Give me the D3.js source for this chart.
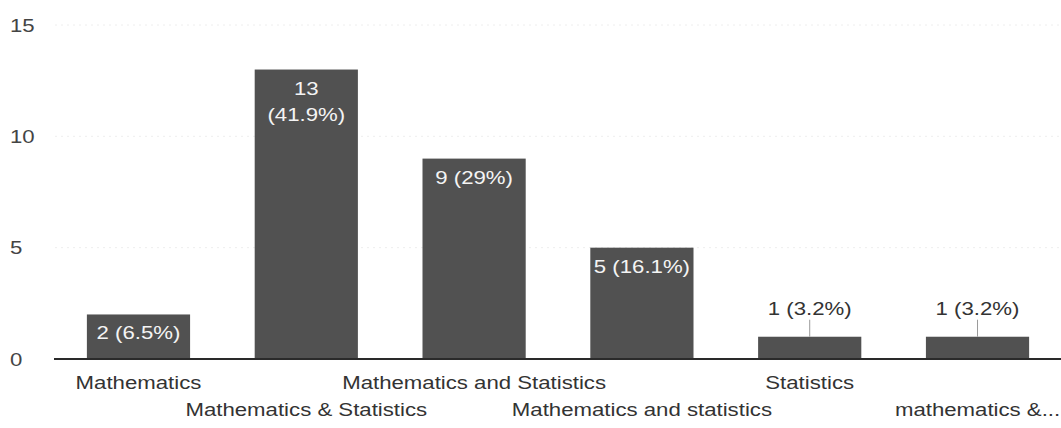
<!DOCTYPE html>
<html>
<head>
    <title>Bar chart</title>
    <script src="https://d3js.org/d3.v7.min.js"></script>
    <style>
        body { margin: 0; background: #fff; }
        text { font-family: "Liberation Sans", Arial, sans-serif; }
    </style>
</head>
<body>
    <svg class="barChart" width="1061" height="428"></svg>

    <script>
// dados
const categorias = ['Mathematics', 'Mathematics & Statistics', 'Mathematics and Statistics',
    'Mathematics and statistics', 'Statistics', 'mathematics &...'];
const respostas = [2, 13, 9, 5, 1, 1];
const yTicks = [0, 5, 10, 15];

function plotarGrafico() {
    const svg = d3.select('.barChart');
    const total = d3.sum(respostas);
    const fs = 18.5, sx = 1.2;   // fonte um pouco esticada na horizontal (scan)

    const x = d3.scaleBand()
        .domain(categorias)
        .range([55, 1061])
        .paddingInner(0.385)
        .paddingOuter(0.19);

    const y = d3.scaleLinear()
        .domain([0, 15])
        .range([359, 25]);

    // grade
    svg.append('g').selectAll('line')
        .data(yTicks.filter(d => d > 0))
        .enter().append('line')
        .attr('x1', 55).attr('x2', 1061)
        .attr('y1', d => y(d)).attr('y2', d => y(d))
        .attr('stroke', '#eeeeee')
        .attr('stroke-dasharray', '2,4');

    // rótulos do eixo y
    svg.append('g').selectAll('text')
        .data(yTicks)
        .enter().append('text')
        .attr('transform', d => `translate(10,${y(d) + 6.5}) scale(${sx},1)`)
        .attr('font-size', fs)
        .attr('fill', '#444')
        .text(d => d);

    // barras
    svg.append('g').selectAll('rect')
        .data(respostas)
        .enter().append('rect')
        .attr('x', (d, i) => x(categorias[i]))
        .attr('y', d => y(d))
        .attr('width', x.bandwidth())
        .attr('height', d => y(0) - y(d))
        .attr('fill', '#515151');

    // linha de base
    svg.append('line')
        .attr('x1', 54).attr('x2', 1061)
        .attr('y1', y(0)).attr('y2', y(0))
        .attr('stroke', '#2a2a2a')
        .attr('stroke-width', 2);

    // rótulos das categorias (alternados em duas linhas)
    svg.append('g').selectAll('text')
        .data(categorias)
        .enter().append('text')
        .attr('transform', (d, i) => `translate(${x(d) + x.bandwidth() / 2},${i % 2 ? 416 : 389}) scale(${sx},1)`)
        .attr('text-anchor', 'middle')
        .attr('font-size', fs)
        .attr('fill', '#333')
        .text(d => d);

    // rótulos dos valores
    const rot = svg.append('g');
    respostas.forEach((v, i) => {
        const cx = x(categorias[i]) + x.bandwidth() / 2;
        const pct = Math.round(v / total * 1000) / 10 + '%';
        const label = `${v} (${pct})`;
        const alturaBarra = y(0) - y(v);
        if (alturaBarra < 30) {
            // fora da barra, com linha guia
            rot.append('text')
                .attr('transform', `translate(${cx},${y(v) - 22}) scale(${sx},1)`)
                .attr('text-anchor', 'middle')
                .attr('font-size', fs)
                .attr('fill', '#333')
                .text(label);
            rot.append('line')
                .attr('x1', cx).attr('x2', cx)
                .attr('y1', y(v) - 17).attr('y2', y(v))
                .attr('stroke', '#9a9a9a');
        } else {
            const t = rot.append('text')
                .attr('transform', `translate(${cx},${y(v) + 25}) scale(${sx},1)`)
                .attr('text-anchor', 'middle')
                .attr('font-size', fs)
                .attr('fill', '#f4f4f4')
                .text(label);
            if (t.node().getComputedTextLength() * sx > x.bandwidth() - 2) {
                t.text(null);
                t.append('tspan').attr('x', 0).attr('y', 0).text(String(v));
                t.append('tspan').attr('x', 0).attr('y', 26).text(`(${pct})`);
            }
        }
    });
}

plotarGrafico();
    </script>
</body>
</html>
